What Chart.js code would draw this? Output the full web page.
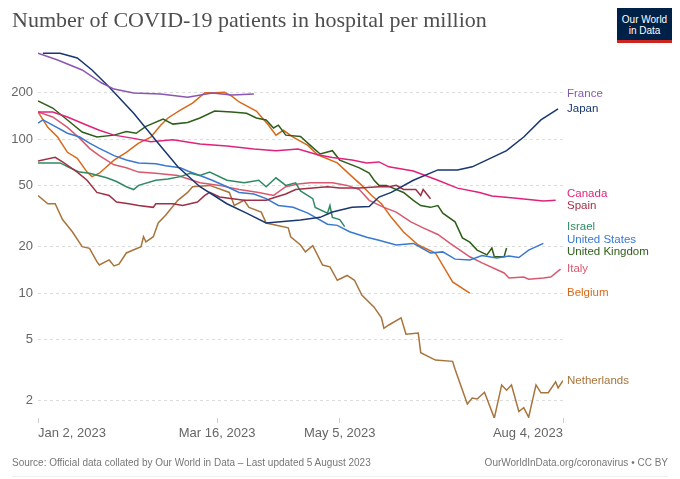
<!DOCTYPE html>
<html>
<head>
<meta charset="utf-8">
<script src="https://cdn.jsdelivr.net/npm/chart.js@4.4.0/dist/chart.umd.min.js"></script>
<style>
html, body { margin: 0; padding: 0; background: #fff; }
#wrap { position: relative; width: 680px; height: 479px; overflow: hidden; font-family: "Liberation Sans", Arial, sans-serif; }
#chart { position: absolute; left: 0; top: 0; }
.title { position: absolute; left: 12px; top: 7px; font-family: "Liberation Serif", serif; font-size: 22px; color: #4e4e4e; white-space: nowrap; }
.logo { position: absolute; left: 617px; top: 8px; width: 55px; height: 26px; padding-top: 6px; background: #002147; border-bottom: 3px solid #ce261e; color: #fff; font-size: 10px; line-height: 11px; text-align: center; }
.foot { position: absolute; top: 457px; font-size: 10px; color: #777; white-space: nowrap; }
.src { left: 12px; }
.url { right: 12px; }
.rule { position: absolute; left: 12px; right: 12px; top: 476px; height: 1px; background: #eee; }
</style>
</head>
<body>
<div id="wrap">
	<canvas id="chart" width="680" height="479"></canvas>
	<div class="title">Number of COVID-19 patients in hospital per million</div>
	<div class="logo">Our World<br>in Data</div>
	<div class="foot src">Source: Official data collated by Our World in Data – Last updated 5 August 2023</div>
	<div class="foot url">OurWorldInData.org/coronavirus • CC BY</div>
	<div class="rule"></div>
</div>
<script>
// days counted from Jan 2, 2023
const tickDays = [0, 73, 123, 214];
const tickLabels = ['Jan 2, 2023', 'Mar 16, 2023', 'May 5, 2023', 'Aug 4, 2023'];
const yTicks = [2, 5, 10, 20, 50, 100, 200];

const franceDays = [0, 8, 18, 26, 31, 39, 50, 61, 71, 79, 88];
const franceVals = [361, 326, 281, 231, 211, 199, 196, 187, 199, 193, 196];

const japanDays = [2, 9, 16, 22, 29, 39, 49, 57, 66, 77, 85, 93, 107, 115, 120, 128, 135, 139, 144, 153, 163, 171, 177, 191, 198, 205, 212];
const japanVals = [361, 361, 336, 281, 218, 147, 94, 66, 49, 38, 33, 28.5, 29.8, 31, 33.6, 36, 36.5, 42, 45, 54, 63, 63, 66, 84, 103, 133, 157];

const canadaDays = [0, 6, 12, 20, 25, 31, 39, 46, 55, 66, 77, 88, 97, 106, 114, 120, 128, 134, 139, 143, 153, 163, 171, 180, 185, 194, 206, 211];
const canadaVals = [150, 150, 139, 123, 114, 106, 101, 96, 99, 93, 90, 86, 84, 86, 79, 76, 73, 70, 71, 66, 62, 54, 48, 45, 42.7, 41.4, 39.6, 40];

const spainDays = [0, 7, 10, 16, 20, 24, 29, 32, 37, 41, 47, 48, 55, 59, 65, 68, 70, 74, 84, 93, 97, 101, 105, 112, 118, 123, 131, 139, 143, 146, 149, 154, 156, 157, 160];
const spainVals = [72, 76, 71, 61, 54, 45, 43, 39, 38, 37, 36, 38, 38, 37, 39, 43, 45, 42, 40, 40, 42, 44, 47, 48, 49, 48, 48, 49, 49, 50, 47, 47, 43, 47, 41];

const israelDays = [0, 9, 13, 17, 21, 28, 32, 36, 39, 41, 48, 53, 58, 62, 66, 70, 77, 84, 90, 93, 97, 101, 105, 107, 112, 113, 118, 119, 120, 123, 125];
const israelVals = [70, 70, 65, 61, 60, 56, 53, 49, 47, 50, 54, 55, 57, 60, 58, 61, 54, 52, 54, 49, 56, 50, 52, 46, 41, 36, 33, 37, 31, 30, 27];

const usDays = [0, 2, 6, 12, 17, 21, 25, 31, 36, 41, 48, 52, 58, 61, 66, 71, 77, 82, 88, 93, 98, 104, 110, 118, 122, 127, 134, 139, 146, 153, 160, 165, 170, 176, 181, 187, 192, 196, 200, 206];
const usVals = [127, 133, 123, 109, 103, 94, 87, 78, 73, 70, 69, 67, 65, 62, 58, 54, 49, 45, 44, 41, 37, 36, 33, 28, 27.5, 25, 23, 22, 20.5, 21, 18.2, 18.5, 16.6, 16.4, 17.5, 16.9, 17.4, 17, 19, 21];

const ukDays = [0, 6, 12, 18, 24, 31, 36, 40, 44, 51, 55, 61, 66, 72, 79, 85, 89, 93, 96, 98, 101, 107, 111, 115, 120, 123, 131, 135, 137, 139, 142, 149, 153, 156, 160, 163, 165, 170, 173, 176, 179, 183, 185, 186, 190, 191];
const ukVals = [177, 159, 133, 111, 103, 106, 112, 109, 121, 135, 125, 128, 137, 152, 150, 147, 137, 133, 118, 123, 106, 104, 91, 80, 84, 73, 65, 60, 54, 50, 50, 45, 40, 37, 36, 37, 33, 29, 22.8, 21.4, 19, 17.7, 19.6, 17.2, 17.2, 19.6];

const italyDays = [0, 6, 12, 17, 21, 25, 31, 36, 41, 48, 57, 66, 74, 82, 90, 96, 101, 106, 111, 120, 126, 131, 135, 141, 146, 152, 157, 163, 168, 176, 181, 190, 192, 198, 200, 206, 209, 213];
const italyVals = [150, 139, 119, 101, 87, 78, 68, 65, 61, 60, 58, 52, 50, 47, 45, 43, 49, 51, 52, 52, 50, 47, 40, 36, 33.5, 29, 26.5, 24, 21, 17.2, 15.7, 13.5, 12.5, 12.7, 12.3, 12.5, 12.7, 14.3];

const belgiumDays = [0, 4, 8, 12, 16, 20, 22, 25, 31, 36, 41, 46, 50, 53, 58, 63, 68, 72, 76, 79, 82, 89, 94, 97, 100, 104, 110, 114, 122, 128, 132, 136, 140, 144, 149, 155, 162, 169, 176];
const belgiumVals = [150, 119, 103, 82, 75, 61, 57, 60, 73, 82, 94, 103, 123, 137, 154, 171, 200, 200, 201, 190, 174, 152, 123, 106, 114, 103, 91, 79, 70, 57, 50, 43, 38, 31, 24.9, 20.5, 18.2, 11.8, 10];

const nlDays = [0, 4, 7, 10, 14, 18, 21, 24, 25, 29, 31, 33, 36, 42, 43, 44, 47, 49, 52, 57, 61, 63, 70, 78, 80, 84, 86, 91, 93, 102, 103, 107, 109, 112, 116, 119, 122, 126, 129, 132, 137, 140, 141, 143, 148, 150, 155, 156, 162, 169, 170, 175, 177, 179, 182, 186, 189, 191, 193, 196, 198, 200, 203, 205, 208, 211, 212, 214];
const nlVals = [43, 38, 38, 30, 25, 20, 19.5, 16, 15.2, 16.4, 15, 15.4, 18.2, 20, 23.2, 21.5, 23.2, 28.5, 32, 40, 45, 49, 50, 45, 37, 40, 36, 33.5, 28.5, 26.5, 23.2, 20.5, 18.5, 20.3, 15.2, 14.8, 12.1, 13, 12.1, 9.7, 8.1, 6.9, 5.9, 6.2, 6.9, 5.4, 5.5, 4.1, 3.67, 3.6, 3.2, 1.9, 2.08, 2.05, 2.27, 1.54, 2.53, 2.34, 2.53, 1.7, 1.8, 1.56, 2.53, 2.25, 2.25, 2.65, 2.42, 2.7];

const font = '"Liberation Sans", Arial, sans-serif';

function points(days, vals) {
	return days.map((d, i) => ({ x: d, y: vals[i] }));
}

function series(label, days, vals, color) {
	return {
		label: label,
		data: points(days, vals),
		borderColor: color,
		borderWidth: 1.5,
		pointRadius: 0,
		tension: 0,
		fill: false,
	};
}

// country names at the end of each line, pushed apart when they overlap
const endLabels = {
	id: 'endLabels',
	afterDatasetsDraw(chart) {
		const ctx = chart.ctx,
			x = chart.scales.x,
			y = chart.scales.y,
			gap = 12;

		const items = chart.data.datasets.map((ds) => {
			const last = ds.data[ds.data.length - 1];
			return { text: ds.label, color: ds.borderColor, y: y.getPixelForValue(last.y) };
		});
		for (let k = 0; k < 60; k++) {
			for (let i = 1; i < items.length; i++) {
				if (items[i].y - items[i - 1].y < gap) {
					const mid = (items[i].y + items[i - 1].y) / 2;
					items[i - 1].y = mid - gap / 2;
					items[i].y = mid + gap / 2;
				}
			}
		}

		ctx.save();
		ctx.font = '11.5px ' + font;
		ctx.textBaseline = 'middle';
		items.forEach((it) => {
			ctx.fillStyle = it.color;
			ctx.fillText(it.text, x.right + 4, it.y);
		});
		ctx.restore();
	},
};

new Chart(document.getElementById('chart'), {
	type: 'line',
	data: {
		datasets: [
			series('France', franceDays, franceVals, '#8a56b0'),
			series('Japan', japanDays, japanVals, '#18366f'),
			series('Canada', canadaDays, canadaVals, '#e0237a'),
			series('Spain', spainDays, spainVals, '#9f2f45'),
			series('Israel', israelDays, israelVals, '#2f8a62'),
			series('United States', usDays, usVals, '#3879d0'),
			series('United Kingdom', ukDays, ukVals, '#2e5e19'),
			series('Italy', italyDays, italyVals, '#d8596f'),
			series('Belgium', belgiumDays, belgiumVals, '#d9691a'),
			series('Netherlands', nlDays, nlVals, '#a8743c'),
		],
	},
	options: {
		responsive: false,
		animation: false,
		layout: { padding: { top: 50, right: 117, bottom: 37, left: 0 } },
		plugins: {
			legend: { display: false },
			tooltip: { enabled: false },
		},
		scales: {
			x: {
				type: 'linear',
				min: 0,
				max: 214,
				afterBuildTicks: (s) => {
					s.ticks = tickDays.map((v) => ({ value: v }));
				},
				afterFit: (s) => {
					s.height = 24;
				},
				ticks: {
					align: 'inner',
					autoSkip: false,
					maxRotation: 0,
					padding: 3,
					color: '#666',
					font: { size: 13, family: font },
					callback: (v) => tickLabels[tickDays.indexOf(v)],
				},
				grid: { drawOnChartArea: false, drawTicks: true, tickLength: 5, color: '#ccc' },
				border: { display: false },
			},
			y: {
				type: 'logarithmic',
				min: 1.543,
				max: 378.6,
				afterBuildTicks: (s) => {
					s.ticks = yTicks.map((v) => ({ value: v }));
				},
				afterFit: (s) => {
					s.width = 38;
				},
				ticks: {
					padding: 5,
					color: '#666',
					font: { size: 13, family: font },
					callback: (v) => String(v),
				},
				grid: { color: '#dcdcdc', drawTicks: false },
				border: { display: false, dash: [3, 3] },
			},
		},
	},
	plugins: [endLabels],
});
</script>
</body>
</html>
